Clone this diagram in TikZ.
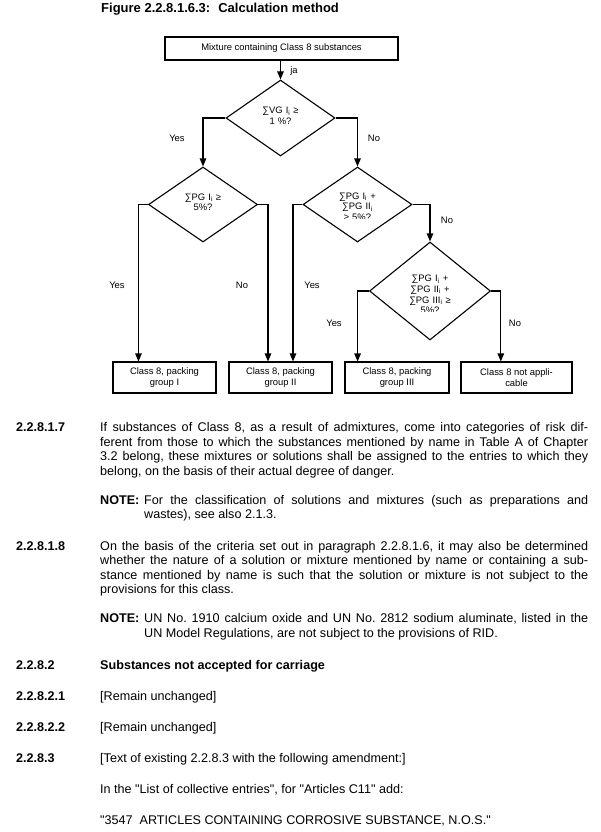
\documentclass[tikz,border=0pt]{standalone}
\usepackage{fontspec}
\setmainfont{Liberation Sans}
\usetikzlibrary{shapes.geometric,arrows.meta,calc}
\font\qf="Liberation Sans" at 12.6pt
\newcommand\dqt{{\qf"}}
\begin{document}
\begin{tikzpicture}[x=1pt,y=-1pt,
  fc/.style={font=\fontsize{9.4}{10.8}\selectfont},
  box/.style={draw,line width=1.1pt,rectangle,inner sep=0pt,align=center,fc},
  dia/.style={draw,line width=1.1pt,diamond,inner sep=0pt},
  dtext/.style={anchor=base,inner sep=0pt,align=center,fc,text width=90pt},
  arr/.style={line width=1.1pt,-{Triangle[length=8pt,width=6.5pt]}},
  lbl/.style={fc,inner sep=0pt},
  body/.style={font=\fontsize{12.6}{14.5}\selectfont\frenchspacing,inner sep=0pt,anchor=base west},
  num/.style={body,font=\fontsize{12.6}{14.5}\selectfont\bfseries},
  para/.style={body,text width=488pt,align=justify,
    execute at begin node={\tolerance=9999\hyphenpenalty=10000\relax}},
]
\fill[white] (0,0) rectangle (600,832);
\useasboundingbox (0,0) rectangle (600,832);

% title
\node[anchor=base west,inner sep=0pt,font=\fontsize{13}{15}\selectfont\bfseries] (title) at (101,12.5) {Figure 2.2.8.1.6.3:\hspace{8pt}Calculation method};

% flowchart nodes
\node[box,minimum width=233pt,minimum height=23pt] (tb) at (281.5,48.5) {Mixture containing Class 8 substances};
\node[dia,minimum width=109pt,minimum height=76pt] (d1) at (280.5,118) {};
\node[dia,minimum width=109pt,minimum height=75pt] (d2) at (203,204.5) {};
\node[dia,minimum width=109pt,minimum height=75pt] (d3) at (357.5,204.5) {};
\node[dia,minimum width=121pt,minimum height=98pt] (d4) at (430,291) {};

\node[box,minimum width=103pt,minimum height=31pt] (b1) at (164.5,377.5) {Class 8, packing\\group I};
\node[box,minimum width=103pt,minimum height=31pt] (b2) at (280.5,377.5) {Class 8, packing\\group II};
\node[box,minimum width=104pt,minimum height=31pt] (b3) at (397,377.5) {Class 8, packing\\group III};
\node[box,minimum width=111pt,minimum height=31pt] (b4) at (516.5,377.5) {Class 8 not appli-\\cable};

% diamond texts
\node[dtext] (t1) at (280.5,113.5) {∑VG I\textsubscript{i} ≥\\1 \%?};
\node[dtext] (t2) at (203,200) {∑PG I\textsubscript{i} ≥\\5\%?};
\begin{scope}
  \clip (300,185) rectangle (415,218);
  \node[dtext] (t3) at (357.5,199) {∑PG I\textsubscript{i} +\\∑PG II\textsubscript{i}\\≥ 5\%?};
\end{scope}
\begin{scope}
  \clip (370,265) rectangle (490,311);
  \node[dtext] (t4) at (430,281.5) {∑PG I\textsubscript{i} +\\∑PG II\textsubscript{i} +\\∑PG III\textsubscript{i} ≥\\5\%?};
\end{scope}

% connectors
\draw[arr] (tb.south -| d1.north) -- (d1.north);
\draw[arr] (d1.west) -| (d2.north);
\draw[arr] (d1.east) -| (d3.north);
\draw[arr] (d2.west) -| ($(b1.north west)!0.25!(b1.north east)$);
\draw[arr] (d2.east) -| ($(b2.north west)!0.38!(b2.north east)$);
\draw[arr] (d3.west) -| ($(b2.north west)!0.62!(b2.north east)$);
\draw[arr] (d3.east) -| (d4.north);
\draw[arr] (d4.west) -| ($(b3.north west)!0.125!(b3.north east)$);
\draw[arr] (d4.east) -| ($(b4.north west)!0.36!(b4.north east)$);

% labels
\node[lbl] (ja) at (294,71) {ja};
\node[lbl] (y1) at (177,138) {Yes};
\node[lbl] (n1l) at (374,138) {No};
\node[lbl] (y2) at (117,285) {Yes};
\node[lbl] (n2l) at (242,285) {No};
\node[lbl] (y3) at (312,285) {Yes};
\node[lbl] (n3l) at (447,220) {No};
\node[lbl] (y4) at (334,323) {Yes};
\node[lbl] (n4l) at (515,323) {No};

% body text
\node[num] (k1) at (16,431.5) {2.2.8.1.7};
\node[para] (p1) at (100,431.5) {If substances of Class 8, as a result of admixtures, come into categories of risk dif-\linebreak ferent from those to which the substances mentioned by name in Table A of Chapter\linebreak 3.2 belong, these mixtures or solutions shall be assigned to the entries to which they\linebreak belong, on the basis of their actual degree of danger.};
\node[para] (q1) at (100,504) {\hangindent=44pt\hangafter=1\makebox[44pt][l]{\textbf{NOTE:}}For the classification of solutions and mixtures (such as preparations and\linebreak wastes), see also 2.1.3.\par};

\node[num] (k2) at (16,550) {2.2.8.1.8};
\node[para] (p2) at (100,550) {On the basis of the criteria set out in paragraph 2.2.8.1.6, it may also be determined\linebreak whether the nature of a solution or mixture mentioned by name or containing a sub-\linebreak stance mentioned by name is such that the solution or mixture is not subject to the\linebreak provisions for this class.};
\node[para] (q2) at (100,622.5) {\hangindent=44pt\hangafter=1\makebox[44pt][l]{\textbf{NOTE:}}UN No. 1910 calcium oxide and UN No. 2812 sodium aluminate, listed in the\linebreak UN Model Regulations, are not subject to the provisions of RID.\par};

\node[num] (k3) at (16,669) {2.2.8.2};
\node[num] (p3) at (100,669) {Substances not accepted for carriage};
\node[num] (k4) at (16,700) {2.2.8.2.1};
\node[body] (p4) at (100,700) {[Remain unchanged]};
\node[num] (k5) at (16,731) {2.2.8.2.2};
\node[body] (p5) at (100,731) {[Remain unchanged]};
\node[num] (k6) at (16,762) {2.2.8.3};
\node[body] (p6) at (100,762) {[Text of existing 2.2.8.3 with the following amendment:]};
\node[body] (p7) at (100,793) {In the \dqt List of collective entries\dqt, for \dqt Articles C11\dqt{} add:};
\node[body] (p8) at (100,824) {\dqt 3547\ \ ARTICLES CONTAINING CORROSIVE SUBSTANCE, N.O.S.\dqt};
\end{tikzpicture}
\end{document}
